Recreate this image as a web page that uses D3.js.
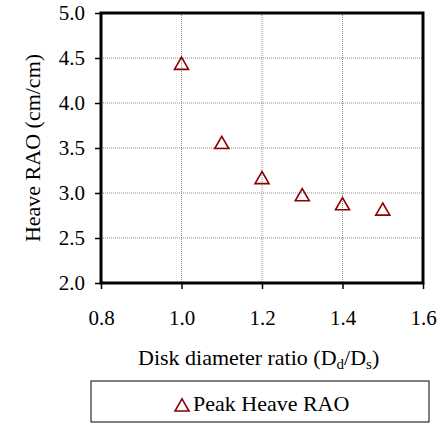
<!DOCTYPE html>
<html lang="en">
<head>
  <meta charset="UTF-8" />
  <title>Peak Heave RAO</title>
  <script src="https://d3js.org/d3.v7.min.js"></script>
  <style>
    body { margin: 0; background: white; }
    .grid line { stroke: #888; stroke-width: 1; stroke-dasharray: 1 1; }
  </style>
</head>
<body>
  <svg id="chart" width="441" height="424"></svg>

  <script>
    const ratios = [1.0, 1.1, 1.2, 1.3, 1.4, 1.5];
    const peakHeave = [4.43, 3.55, 3.16, 2.97, 2.87, 2.81];
    const xTicks = [0.8, 1.0, 1.2, 1.4, 1.6];
    const yTicks = [2.0, 2.5, 3.0, 3.5, 4.0, 4.5, 5.0];

    const FONT = "Liberation Serif";
    const svg = d3.select("#chart");
    const plotL = 101, plotR = 423, plotT = 13, plotB = 283;

    const x = d3.scaleLinear().domain([0.8, 1.6]).range([plotL, plotR]);
    const y = d3.scaleLinear().domain([2, 5]).range([plotB, plotT]);

    // grid
    const grid = svg.append("g").attr("class", "grid");
    grid.selectAll(".gx")
      .data(xTicks.slice(1, -1))
      .join("line")
      .attr("x1", d => x(d)).attr("x2", d => x(d))
      .attr("y1", plotT).attr("y2", plotB);
    grid.selectAll(".gy")
      .data(yTicks.slice(1, -1))
      .join("line")
      .attr("x1", plotL).attr("x2", plotR)
      .attr("y1", d => y(d)).attr("y2", d => y(d));

    // axes
    svg.append("g")
      .attr("transform", `translate(0,${plotB})`)
      .call(d3.axisBottom(x).tickValues(xTicks).tickFormat(d3.format(".1f")).tickSize(6).tickPadding(21))
      .call(g => g.select(".domain").remove())
      .call(g => g.selectAll("line").attr("stroke", "#000").attr("stroke-width", 1.5))
      .call(g => g.selectAll("text").attr("fill", "#000")
        .style("font-family", FONT).style("font-size", "21px"));

    svg.append("g")
      .attr("transform", `translate(${plotL},0)`)
      .call(d3.axisLeft(y).tickValues(yTicks).tickFormat(d3.format(".1f")).tickSize(6).tickPadding(10))
      .call(g => g.select(".domain").remove())
      .call(g => g.selectAll("line").attr("stroke", "#000").attr("stroke-width", 1.5))
      .call(g => g.selectAll("text").attr("fill", "#000")
        .style("font-family", FONT).style("font-size", "21px"));

    // frame
    svg.append("rect")
      .attr("x", plotL).attr("y", plotT)
      .attr("width", plotR - plotL).attr("height", plotB - plotT)
      .attr("fill", "none").attr("stroke", "#000").attr("stroke-width", 3);

    // markers
    const tri = d3.symbol().type(d3.symbolTriangle).size(85);
    svg.append("g")
      .selectAll("path")
      .data(ratios.map((r, i) => [r, peakHeave[i]]))
      .join("path")
      .attr("d", tri)
      .attr("transform", d => `translate(${x(d[0])},${y(d[1]) + 1})`)
      .attr("fill", "none")
      .attr("stroke", "#8b0000")
      .attr("stroke-width", 1.6);

    // axis titles
    svg.append("text")
      .attr("transform", `translate(40,${(plotT + plotB) / 2}) rotate(-90)`)
      .attr("text-anchor", "middle")
      .style("font-family", FONT).style("font-size", "22px")
      .text("Heave RAO (cm/cm)");

    const xt = svg.append("text")
      .attr("x", 138).attr("y", 365)
      .style("font-family", FONT).style("font-size", "22px");
    xt.append("tspan").text("Disk diameter ratio  (D");
    xt.append("tspan").style("font-size", "15px").attr("dy", 4).text("d");
    xt.append("tspan").attr("dy", -4).text("/D");
    xt.append("tspan").style("font-size", "15px").attr("dy", 4).text("s");
    xt.append("tspan").attr("dy", -4).text(")");

    // legend
    svg.append("rect")
      .attr("x", 91).attr("y", 381)
      .attr("width", 338).attr("height", 41)
      .attr("fill", "white").attr("stroke", "#000").attr("stroke-width", 1);
    svg.append("path")
      .attr("d", tri)
      .attr("transform", "translate(182,407)")
      .attr("fill", "none")
      .attr("stroke", "#8b0000")
      .attr("stroke-width", 1.6);
    svg.append("text")
      .attr("x", 193).attr("y", 411)
      .style("font-family", FONT).style("font-size", "22px")
      .text("Peak Heave RAO");
  </script>
</body>
</html>
